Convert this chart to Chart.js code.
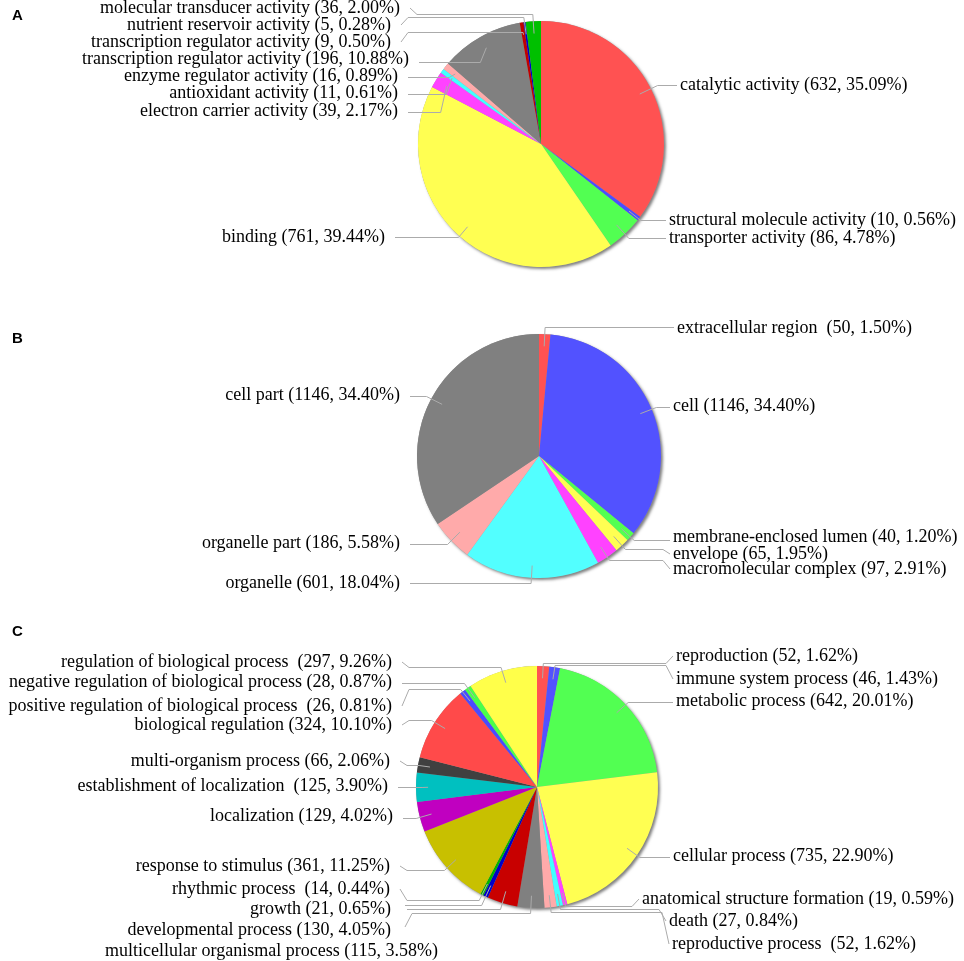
<!DOCTYPE html>
<html>
<head>
<meta charset="utf-8">
<title>GO annotation pies</title>
<script src="https://cdn.jsdelivr.net/npm/chart.js@4.4.1/dist/chart.umd.min.js"></script>
<style>
  body { margin: 0; background: #fff; }
  #wrap { position: relative; width: 964px; height: 961px; }
  canvas { position: absolute; left: 0; top: 0; }
</style>
</head>
<body>
<div id="wrap">
  <canvas id="pieA" width="964" height="961"></canvas>
  <canvas id="pieB" width="964" height="961"></canvas>
  <canvas id="pieC" width="964" height="961"></canvas>
</div>
<script>
// A - molecular function (clockwise from 12 o'clock)
const namesA = ['catalytic activity', 'structural molecule activity', 'transporter activity', 'binding',
  'electron carrier activity', 'antioxidant activity', 'enzyme regulator activity',
  'transcription regulator activity', 'transcription regulator activity', 'nutrient reservoir activity',
  'molecular transducer activity']
const countsA = [632, 10, 86, 761, 39, 11, 16, 196, 9, 5, 36]
const pctA = ['35.09', '0.56', '4.78', '39.44', '2.17', '0.61', '0.89', '10.88', '0.50', '0.28', '2.00']

// B - cellular component
const namesB = ['extracellular region ', 'cell', 'membrane-enclosed lumen', 'envelope',
  'macromolecular complex', 'organelle', 'organelle part', 'cell part']
const countsB = [50, 1146, 40, 65, 97, 601, 186, 1146]
const pctB = ['1.50', '34.40', '1.20', '1.95', '2.91', '18.04', '5.58', '34.40']

// C - biological process
const namesC = ['reproduction', 'immune system process', 'metabolic process', 'cellular process',
  'anatomical structure formation', 'death', 'reproductive process ', 'multicellular organismal process',
  'developmental process', 'growth', 'rhythmic process ', 'response to stimulus', 'localization',
  'establishment of localization ', 'multi-organism process', 'biological regulation',
  'positive regulation of biological process ', 'negative regulation of biological process',
  'regulation of biological process ']
const countsC = [52, 46, 642, 735, 19, 27, 52, 115, 130, 21, 14, 361, 129, 125, 66, 324, 26, 28, 297]
const pctC = ['1.62', '1.43', '20.01', '22.90', '0.59', '0.84', '1.62', '3.58', '4.05', '0.65', '0.44',
  '11.25', '4.02', '3.90', '2.06', '10.10', '0.81', '0.87', '9.26']

const colorsA = ['#ff5252', '#4c4cff', '#52ff52', '#ffff52', '#ff42ff', '#42ffff', '#ffaaaa', '#808080',
  '#c00000', '#0000c8', '#00c000']
const colorsB = ['#ff5252', '#5252ff', '#52ff52', '#ffff52', '#ff42ff', '#52ffff', '#ffaaaa', '#808080']
const colorsC = ['#ff5252', '#5252ff', '#52ff52', '#ffff52', '#ff42ff', '#42ffff', '#ffaaaa', '#808080',
  '#c80000', '#0000c8', '#00b400', '#c8c000', '#c000c0', '#00c0c0', '#404040', '#ff4a4a', '#4a4aff',
  '#4aff4a', '#ffff4a']

// label placement: side (1 right, -1 left), text x, baseline, y of the leader's horizontal run,
// optional point where the leader stops
const layoutA = [
  [1, 680, 90, 85], [1, 669, 225, 220], [1, 669, 243, 238], [-1, 385, 242, 237],
  [-1, 398, 116, 112], [-1, 398, 98, 94], [-1, 398, 81, 77], [-1, 409, 64, 62],
  [-1, 391, 47, 32], [-1, 391, 30, 17], [-1, 400, 13, 14]
]
const layoutB = [
  [1, 677, 333, 327], [1, 673, 411, 407], [1, 673, 542, 540], [1, 673, 559, 549],
  [1, 673, 574, 560], [-1, 400, 588, 583], [-1, 400, 548, 544], [-1, 400, 400, 396]
]
const layoutC = [
  [1, 676, 661, 663], [1, 676, 684, 665], [1, 676, 706, 702], [1, 673, 861, 857],
  [1, 642, 904, 906], [1, 669, 926, 909], [1, 672, 949, 912], [-1, 438, 956, 913, 405, 927],
  [-1, 391, 935, 909, 407, 912], [-1, 391, 914, 905, 405, 908], [-1, 390, 894, 900], [-1, 390, 871, 870],
  [-1, 393, 821, 818], [-1, 388, 791, 787], [-1, 390, 766, 765], [-1, 392, 730, 720],
  [-1, 392, 711, 689], [-1, 392, 687, 683], [-1, 392, 667, 667]
]

function labelPlugin(texts, layout, letter, letterY) {
  return {
    id: 'pieLabels',
    beforeDatasetsDraw(chart) {
      // soft shadow under the whole pie
      const a = chart.getDatasetMeta(0).data[0]
      const ctx = chart.ctx
      ctx.save()
      ctx.beginPath()
      ctx.arc(a.x, a.y, a.outerRadius, 0, Math.PI * 2)
      ctx.shadowColor = 'rgba(0,0,0,0.5)'
      ctx.shadowBlur = 3
      ctx.shadowOffsetX = 2
      ctx.shadowOffsetY = 2
      ctx.fillStyle = '#999'
      ctx.fill()
      ctx.restore()
    },
    afterDatasetsDraw(chart) {
      const ctx = chart.ctx
      const meta = chart.getDatasetMeta(0)
      ctx.save()
      ctx.strokeStyle = '#ababab'
      ctx.lineWidth = 1
      ctx.fillStyle = '#000'
      ctx.font = '18px "Liberation Serif", "Times New Roman", serif'
      ctx.textBaseline = 'alphabetic'

      meta.data.forEach((arc, i) => {
        const [side, tx, base, ly, stopX, stopY] = layout[i]
        const mid = (arc.startAngle + arc.endAngle) / 2
        const dx = Math.cos(mid), dy = Math.sin(mid)
        const r = arc.outerRadius * 0.9
        const p0 = { x: arc.x + dx * r, y: arc.y + dy * r }
        const t = Math.abs(dy) > 0.05 ? (ly - p0.y) / dy : -1
        let ex = (t > 0 && t < 60) ? p0.x + dx * t : p0.x + side * 6
        const endX = stopX !== undefined ? stopX : (side > 0 ? tx - 3 : tx + 10)
        const cy = stopY !== undefined ? stopY : base - 5

        ctx.beginPath()
        ctx.moveTo(p0.x, p0.y)
        ctx.lineTo(ex, ly + 0.5)
        if (Math.abs(ly - cy) > 3) {
          ctx.lineTo(endX - side * 7, ly + 0.5)
          ctx.lineTo(endX, cy)
        } else {
          ctx.lineTo(endX, ly + 0.5)
        }
        ctx.stroke()

        ctx.textAlign = side > 0 ? 'left' : 'right'
        ctx.fillText(texts[i], tx, base)
      })

      ctx.font = 'bold 15px "Liberation Sans", Arial, sans-serif'
      ctx.textAlign = 'left'
      ctx.fillText(letter, 12, letterY)
      ctx.restore()
    }
  }
}

function desenhaPizza(id, names, counts, pct, colors, layout, pad, letter, letterY) {
  const texts = names.map((n, i) => n + ' (' + counts[i] + ', ' + pct[i] + '%)')
  return new Chart(document.getElementById(id), {
    type: 'pie',
    data: {
      labels: names,
      datasets: [{
        data: counts,
        backgroundColor: colors,
        borderWidth: 0,
        offset: 0,
        hoverOffset: 0
      }]
    },
    options: {
      responsive: false,
      devicePixelRatio: 1,
      animation: false,
      events: [],
      layout: { padding: pad },
      plugins: {
        legend: { display: false },
        tooltip: { enabled: false }
      }
    },
    plugins: [labelPlugin(texts, layout, letter, letterY)]
  })
}

desenhaPizza('pieA', namesA, countsA, pctA, colorsA, layoutA,
  { left: 418, right: 300, top: 21, bottom: 694 }, 'A', 20)
desenhaPizza('pieB', namesB, countsB, pctB, colorsB, layoutB,
  { left: 417, right: 303, top: 334, bottom: 383 }, 'B', 343)
desenhaPizza('pieC', namesC, countsC, pctC, colorsC, layoutC,
  { left: 416, right: 306, top: 666, bottom: 53 }, 'C', 636)
</script>
</body>
</html>
